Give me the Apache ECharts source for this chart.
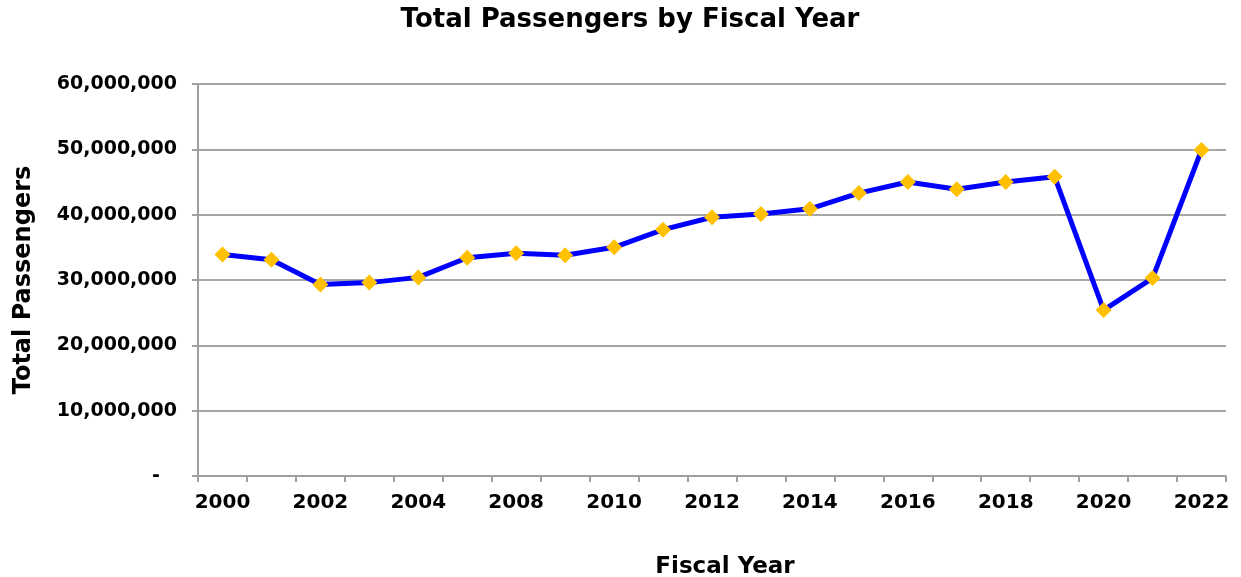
<!DOCTYPE html>
<html>
<head>
<meta charset="utf-8">
<script src="https://cdn.jsdelivr.net/npm/echarts@6/dist/echarts.min.js"></script>
<style>
html,body{margin:0;padding:0;background:#fff;overflow:hidden;}
#chart{width:1241px;height:577px;}
</style>
</head>
<body>
<div id="chart"></div>
<script>
const categories = ['2000','2001','2002','2003','2004','2007','2008','2009','2010','2011','2012','2013','2014','2015','2016','2017','2018','2019','2020','2021','2022'];
const passengers = [33900000,33100000,29300000,29600000,30400000,33400000,34100000,33800000,35000000,37700000,39600000,40100000,40900000,43300000,45000000,43900000,45000000,45800000,25400000,30300000,49900000];
const titleText = 'Total Passengers by Fiscal Year';
const yAxisTitle = 'Total Passengers';
const xAxisTitle = 'Fiscal Year';

const FONT = '"DejaVu Sans", Verdana, sans-serif';
const chart = echarts.init(document.getElementById('chart'), null, {renderer:'canvas', width:1241, height:577});
chart.setOption({
  animation:false,
  backgroundColor:'#ffffff',
  title:{
    text:titleText, left:625, top:2, textAlign:'center',
    textStyle:{fontFamily:FONT, fontWeight:'bold', fontSize:26, color:'#000'}
  },
  grid:{left:198, top:84, width:1028, height:392, containLabel:false, outerBoundsMode:'none'},
  xAxis:{
    type:'category', data:categories, boundaryGap:true,
    name:xAxisTitle, nameLocation:'middle', nameGap:80,
    nameTextStyle:{fontFamily:FONT, fontWeight:'bold', fontSize:23, color:'#000', padding:[0,0,0,26]},
    axisLine:{lineStyle:{color:'#a0a0a0', width:2}},
    axisTick:{show:true, interval:0, length:6, lineStyle:{color:'#a0a0a0', width:2}},
    axisLabel:{interval:1, margin:17, fontFamily:FONT, fontWeight:'bold', fontSize:20, color:'#000'},
    splitLine:{show:false}
  },
  yAxis:{
    type:'value', min:0, max:60000000, interval:10000000,
    name:yAxisTitle, nameLocation:'middle', nameGap:162, nameRotate:90,
    nameTextStyle:{fontFamily:FONT, fontWeight:'bold', fontSize:24, color:'#000'},
    axisLine:{show:true, lineStyle:{color:'#a0a0a0', width:2}},
    axisTick:{show:true, length:6, lineStyle:{color:'#a0a0a0', width:2}},
    axisLabel:{margin:21, fontFamily:FONT, fontWeight:'bold', fontSize:19, color:'#000',
      formatter:function(v){ return v===0 ? '{z|-}' : v.toLocaleString('en-US'); },
      rich:{z:{fontFamily:FONT, fontWeight:'bold', fontSize:19, color:'#000', padding:[0,17,0,0]}}},
    splitLine:{show:true, lineStyle:{color:'#a6a6a6', width:2}}
  },
  series:[{
    type:'line', data:passengers,
    lineStyle:{color:'#0000ff', width:5},
    itemStyle:{color:'#ffc000', borderWidth:0},
    symbol:'diamond', symbolSize:16, showSymbol:true
  }]
});
</script>
</body>
</html>
